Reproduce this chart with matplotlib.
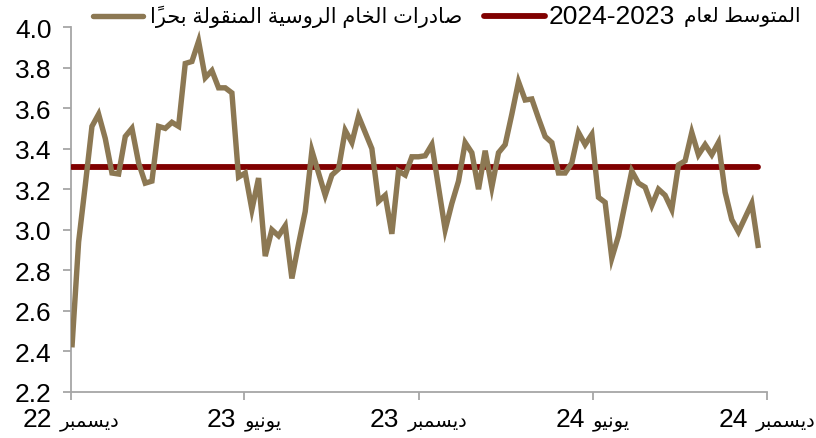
import matplotlib
matplotlib.use("Agg")
import matplotlib.pyplot as plt
import matplotlib.dates as mdates
from matplotlib.lines import Line2D
from matplotlib.offsetbox import TextArea, HPacker, AnnotationBbox
import pandas as pd
import numpy as np

# ---------------- data ----------------
start_date = "2022-12-02"
exports = [2.42, 2.94, 3.22, 3.51, 3.57, 3.45, 3.28, 3.275, 3.46, 3.50,
           3.33, 3.23, 3.24, 3.51, 3.50, 3.53, 3.51, 3.82, 3.83, 3.93,
           3.75, 3.785, 3.70, 3.70, 3.675, 3.26, 3.28, 3.10, 3.255, 2.87,
           3.00, 2.97, 3.02, 2.76, 2.93, 3.09, 3.39, 3.28, 3.17, 3.27,
           3.30, 3.49, 3.43, 3.56, 3.48, 3.40, 3.14, 3.17, 2.98, 3.29,
           3.27, 3.36, 3.36, 3.365, 3.42, 3.21, 3.00, 3.13, 3.24, 3.43,
           3.38, 3.20, 3.39, 3.21, 3.38, 3.42, 3.57, 3.73, 3.64, 3.645,
           3.55, 3.46, 3.43, 3.28, 3.28, 3.33, 3.48, 3.42, 3.47, 3.16,
           3.135, 2.86, 2.97, 3.13, 3.29, 3.23, 3.21, 3.12, 3.20, 3.17,
           3.10, 3.32, 3.34, 3.48, 3.37, 3.42, 3.37, 3.43, 3.185, 3.05,
           2.99, 3.06, 3.13, 2.91]
average_2023_2024 = 3.31

tick_dates = ["2022-12-01", "2023-06-01", "2023-12-01", "2024-06-01", "2024-12-01"]
tick_months = ["ديسمبر", "يونيو", "ديسمبر", "يونيو", "ديسمبر"]
tick_years = ["22", "23", "23", "24", "24"]
y_ticks = [2.2, 2.4, 2.6, 2.8, 3.0, 3.2, 3.4, 3.6, 3.8, 4.0]

label_exports = "صادرات الخام الروسية المنقولة بحراً"
label_avg_text = "المتوسط لعام"
label_avg_years = "2024-2023"

# ------------- Arabic shaping (visual order, presentation forms) -------------
FORMS = {
    'ا': ('\uFE8D', '\uFE8E', None, None),
    'ب': ('\uFE8F', '\uFE90', '\uFE91', '\uFE92'),
    'ة': ('\uFE93', '\uFE94', None, None),
    'ت': ('\uFE95', '\uFE96', '\uFE97', '\uFE98'),
    'ح': ('\uFEA1', '\uFEA2', '\uFEA3', '\uFEA4'),
    'خ': ('\uFEA5', '\uFEA6', '\uFEA7', '\uFEA8'),
    'د': ('\uFEA9', '\uFEAA', None, None),
    'ر': ('\uFEAD', '\uFEAE', None, None),
    'س': ('\uFEB1', '\uFEB2', '\uFEB3', '\uFEB4'),
    'ص': ('\uFEB9', '\uFEBA', '\uFEBB', '\uFEBC'),
    'ط': ('\uFEC1', '\uFEC2', '\uFEC3', '\uFEC4'),
    'ع': ('\uFEC9', '\uFECA', '\uFECB', '\uFECC'),
    'ق': ('\uFED5', '\uFED6', '\uFED7', '\uFED8'),
    'ل': ('\uFEDD', '\uFEDE', '\uFEDF', '\uFEE0'),
    'م': ('\uFEE1', '\uFEE2', '\uFEE3', '\uFEE4'),
    'ن': ('\uFEE5', '\uFEE6', '\uFEE7', '\uFEE8'),
    'و': ('\uFEED', '\uFEEE', None, None),
    'ي': ('\uFEF1', '\uFEF2', '\uFEF3', '\uFEF4'),
}
MARKS = set('\u064B\u064C\u064D\u064E\u064F\u0650\u0651\u0652')


def shape(text):
    chars = list(text)
    letters = [i for i, c in enumerate(chars) if c not in MARKS]
    out = []
    for k, i in enumerate(letters):
        c = chars[i]
        if c not in FORMS:
            out.append([c])
            continue
        prev_c = chars[letters[k - 1]] if k > 0 else None
        next_c = chars[letters[k + 1]] if k + 1 < len(letters) else None
        jp = prev_c in FORMS and FORMS[prev_c][2] is not None
        jn = next_c in FORMS and FORMS[c][2] is not None
        iso, fin, ini, med = FORMS[c]
        if jp and jn:
            g = med
        elif jp:
            g = fin
        elif jn:
            g = ini
        else:
            g = iso
        cluster = [g]
        j = i + 1
        while j < len(chars) and chars[j] in MARKS:
            cluster.append(chars[j])
            j += 1
        out.append(cluster)
    out.reverse()
    return ''.join(''.join(c) for c in out)


# ---------------- plot ----------------
plt.rcParams['font.family'] = ['Liberation Sans', 'DejaVu Sans']

W, H = 816, 439
dates = pd.date_range(start_date, periods=len(exports), freq="7D")
avg_series = np.full(len(exports), average_2023_2024)

fig = plt.figure(figsize=(W / 100, H / 100), dpi=100)
ax = fig.add_axes([71 / W, 1 - 393 / H, (767 - 71) / W, (393 - 28) / H])

gold = "#8C7853"
dark_red = "#800000"
grey = "#A6A6A6"
LW = 3.9

ax.plot(dates, avg_series, color=dark_red, lw=4.2, solid_capstyle='round', zorder=3)
ax.plot(dates, exports, color=gold, lw=LW, solid_joinstyle='miter',
        solid_capstyle='butt', zorder=4)

ax.set_xlim(pd.Timestamp(tick_dates[0]), pd.Timestamp(tick_dates[-1]))
ax.set_ylim(2.2, 4.0)
ax.set_yticks(y_ticks)
ax.set_yticklabels([f"{v:.1f}" for v in y_ticks])
ax.set_xticks([pd.Timestamp(d) for d in tick_dates])
ax.set_xticklabels([])

for side in ("top", "right"):
    ax.spines[side].set_visible(False)
for side in ("left", "bottom"):
    ax.spines[side].set_color(grey)
    ax.spines[side].set_linewidth(1.3)

ax.tick_params(axis='both', colors=grey, labelcolor='black', length=6,
               width=1.3, direction='out')
ax.tick_params(axis='y', labelsize=19, pad=8)

DIGIT_SIZE = 19
AR_TICK_SIZE = 14

# x tick labels: year digits (Latin) + Arabic month, in visual order
for d, m, yr in zip(tick_dates, tick_months, tick_years):
    pack = HPacker(children=[TextArea(yr, textprops=dict(size=DIGIT_SIZE)),
                             TextArea(shape(m), textprops=dict(size=AR_TICK_SIZE))],
                   align="baseline", pad=0, sep=6)
    ab = AnnotationBbox(pack, (mdates.date2num(pd.Timestamp(d)), H - 420),
                        xycoords=('data', 'figure pixels'),
                        box_alignment=(0.5, 0.5), frameon=False,
                        annotation_clip=False)
    ax.add_artist(ab)

# legend (drawn manually to mix Latin digits and shaped Arabic text)
ly = 1 - 17 / H
fig.add_artist(Line2D([93 / W, 143 / W], [ly, ly], transform=fig.transFigure,
                      color=gold, lw=LW, solid_capstyle='round'))
fig.text(462 / W, ly, shape(label_exports), ha='right', va='center',
         fontsize=15)
fig.add_artist(Line2D([484 / W, 545 / W], [ly, ly], transform=fig.transFigure,
                      color=dark_red, lw=4.2, solid_capstyle='round'))
fig.text(549 / W, ly, label_avg_years, ha='left', va='center',
         fontsize=DIGIT_SIZE)
fig.text(800 / W, ly, shape(label_avg_text), ha='right', va='center',
         fontsize=14.5)

fig.savefig("out.png", dpi=100)
